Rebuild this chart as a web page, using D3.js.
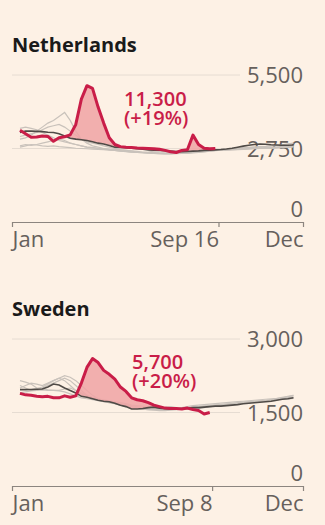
<!DOCTYPE html>
<html>
<head>
<meta charset="utf-8">
<script src="https://cdn.jsdelivr.net/npm/d3@7"></script>
<style>
  body { margin: 0; background: #fdf1e5; }
  svg { display: block; }
  text { font-family: "Open Sans", sans-serif; }
</style>
</head>
<body>
<div class="chart"></div>
<script>
// week numbers of the year (x categories)
var weeks = d3.range(1, 51);

// Netherlands, weekly deaths
var nlTitle = "Netherlands";
var nl2020 = [3430, 3300, 3170, 3180, 3220, 3200, 3020, 3150, 3190, 3260,
    3650, 4600, 5100, 5000, 4300, 3700, 3150, 2900, 2820, 2800,
    2790, 2770, 2760, 2750, 2740, 2720, 2680, 2630, 2600, 2680,
    2700, 3250, 2900, 2760, 2740, 2750];
var nlAverage = [3350, 3400, 3400, 3390, 3380, 3360, 3350, 3300, 3220, 3130,
    3100, 3080, 3050, 3000, 2950, 2920, 2860, 2800, 2790, 2780,
    2760, 2740, 2720, 2700, 2690, 2680, 2670, 2650, 2640, 2630,
    2640, 2650, 2660, 2680, 2690, 2700, 2710, 2730, 2760, 2800,
    2840, 2870, 2900, 2920, 2910, 2890, 2880, 2870, 2870, 2880];
var nlPast = [
    [3200, 3250, 3300, 3350, 3450, 3550, 3600, 3650, 3550, 3400, 3250, 3100, 3000, 2950, 2900, 2850, 2800, 2750, 2700, 2680, 2650, 2620, 2600, 2580, 2570, 2560, 2560, 2550, 2560, 2570, 2580, 2590, 2600, 2620, 2650, 2680, 2700, 2720, 2740, 2760, 2780, 2790, 2800, 2810, 2800, 2790, 2800, 2820, 2830, 2850],
    [2850, 2900, 2870, 2900, 2950, 3000, 3050, 3100, 3050, 2950, 2900, 2850, 2800, 2780, 2760, 2750, 2730, 2720, 2700, 2680, 2660, 2640, 2620, 2600, 2600, 2590, 2590, 2600, 2610, 2620, 2630, 2650, 2660, 2670, 2680, 2690, 2700, 2710, 2720, 2730, 2740, 2750, 2760, 2770, 2760, 2750, 2760, 2780, 2800, 2820],
    [3500, 3550, 3500, 3450, 3350, 3250, 3150, 3050, 3000, 2950, 2900, 2850, 2800, 2780, 2750, 2720, 2700, 2680, 2660, 2640, 2620, 2600, 2600, 2590, 2580, 2570, 2560, 2560, 2570, 2580, 2590, 2600, 2610, 2630, 2650, 2670, 2690, 2700, 2720, 2740, 2760, 2780, 2800, 2820, 2830, 2850, 2870, 2890, 2920, 2950],
    [3100, 3150, 3250, 3400, 3550, 3700, 3800, 3950, 4100, 3800, 3400, 3100, 2950, 2850, 2800, 2750, 2700, 2680, 2650, 2630, 2610, 2600, 2600, 2620, 2650, 2680, 2700, 2650, 2600, 2580, 2570, 2600, 2620, 2650, 2660, 2680, 2690, 2700, 2710, 2720, 2730, 2740, 2750, 2760, 2780, 2790, 2800, 2810, 2830, 2860],
    [2800, 2850, 2900, 2880, 2850, 2830, 2850, 2820, 2800, 2780, 2760, 2750, 2740, 2730, 2720, 2710, 2700, 2680, 2660, 2640, 2620, 2600, 2590, 2580, 2570, 2560, 2550, 2560, 2580, 2600, 2620, 2640, 2650, 2660, 2670, 2680, 2690, 2700, 2700, 2710, 2720, 2730, 2740, 2750, 2760, 2770, 2780, 2790, 2800, 2810]
];
var nlYTicks = [0, 2750, 5500];
var nlXTicks = ["Jan", "Sep 16", "Dec"];
var nlXTickDates = [new Date(2020, 0, 1), new Date(2020, 8, 16), new Date(2020, 11, 31)];
var nlNote = ["11,300", "(+19%)"];

// Sweden, weekly deaths
var seTitle = "Sweden";
var se2020 = [1890, 1860, 1850, 1830, 1820, 1830, 1800, 1800, 1840, 1810,
    1840, 2100, 2420, 2600, 2520, 2360, 2280, 2180, 2020, 1930,
    1800, 1760, 1740, 1700, 1650, 1620, 1590, 1580, 1580, 1570,
    1590, 1560, 1540, 1470, 1500];
var seAverage = [1970, 1970, 1970, 1975, 1980, 2020, 2080, 2060, 2000, 1950,
    1900, 1830, 1810, 1780, 1750, 1730, 1720, 1690, 1650, 1620,
    1570, 1570, 1580, 1600, 1610, 1590, 1580, 1570, 1570, 1580,
    1590, 1600, 1600, 1610, 1620, 1630, 1630, 1640, 1650, 1660,
    1680, 1690, 1700, 1710, 1720, 1730, 1750, 1770, 1780, 1800];
var sePast = [
    [2000, 2050, 2100, 2080, 2050, 2100, 2150, 2200, 2150, 2050, 1950, 1900, 1850, 1800, 1780, 1760, 1740, 1720, 1700, 1680, 1650, 1640, 1630, 1620, 1610, 1600, 1590, 1580, 1580, 1590, 1600, 1610, 1620, 1630, 1640, 1650, 1660, 1670, 1680, 1690, 1700, 1710, 1720, 1730, 1740, 1760, 1780, 1800, 1820, 1850],
    [2150, 2120, 2080, 2000, 1980, 1960, 1950, 1950, 1980, 2000, 1950, 1880, 1820, 1780, 1760, 1740, 1720, 1700, 1680, 1660, 1640, 1620, 1600, 1600, 1590, 1580, 1570, 1570, 1580, 1590, 1600, 1610, 1620, 1630, 1640, 1650, 1660, 1670, 1680, 1700, 1710, 1720, 1730, 1740, 1750, 1760, 1770, 1780, 1800, 1820],
    [2050, 2000, 1950, 1950, 2000, 2050, 2100, 2150, 2200, 2150, 2050, 1950, 1850, 1800, 1770, 1740, 1720, 1690, 1670, 1650, 1620, 1600, 1590, 1580, 1570, 1560, 1560, 1570, 1580, 1600, 1620, 1640, 1650, 1660, 1670, 1680, 1690, 1700, 1710, 1720, 1730, 1740, 1750, 1760, 1770, 1780, 1790, 1810, 1830, 1850],
    [1950, 1950, 1970, 1990, 2020, 2080, 2150, 2200, 2250, 2220, 2150, 2050, 1950, 1850, 1780, 1720, 1700, 1680, 1650, 1620, 1600, 1580, 1570, 1560, 1560, 1570, 1600, 1620, 1600, 1580, 1570, 1570, 1580, 1600, 1620, 1630, 1640, 1650, 1670, 1680, 1690, 1700, 1710, 1720, 1740, 1750, 1760, 1780, 1800, 1810],
    [1900, 1920, 1940, 1950, 1960, 1950, 1950, 1940, 1920, 1880, 1840, 1800, 1780, 1760, 1740, 1720, 1700, 1680, 1650, 1630, 1610, 1590, 1570, 1560, 1550, 1540, 1540, 1550, 1560, 1570, 1580, 1600, 1610, 1620, 1630, 1640, 1650, 1660, 1670, 1680, 1690, 1700, 1720, 1730, 1740, 1750, 1760, 1770, 1780, 1790]
];
var seYTicks = [0, 1500, 3000];
var seXTicks = ["Jan", "Sep 8", "Dec"];
var seXTickDates = [new Date(2020, 0, 1), new Date(2020, 8, 8), new Date(2020, 11, 31)];
var seNote = ["5,700", "(+20%)"];

// ==================================

var RED = "#c91d48";
var weekDate = function(w) {
    return new Date(2020, 0, 1 + 7 * w + 3);
};

var svg = d3.select(".chart")
            .append("svg")
            .attr("width", 325)
            .attr("height", 525);

var drawPanel = function(p) {
    var g = svg.append("g").attr("transform", "translate(0," + p.top + ")");

    var x = d3.scaleTime()
              .domain([new Date(2020, 0, 1), new Date(2020, 11, 31)])
              .range([12, 303]);
    var y = d3.scaleLinear()
              .domain([0, p.yTicks[p.yTicks.length - 1]])
              .range([147, 0]);

    g.append("text")
        .attr("x", 12)
        .attr("y", -23)
        .attr("font-size", 20)
        .attr("font-weight", 700)
        .attr("fill", "#1a1a1a")
        .text(p.title);

    // gridlines, the zero line is the axis
    g.selectAll(".grid")
        .data(p.yTicks.slice(1))
        .enter().append("line")
        .attr("x1", 12)
        .attr("x2", 240)
        .attr("y1", function(d) { return y(d); })
        .attr("y2", function(d) { return y(d); })
        .attr("stroke", "#e6dcd2")
        .attr("stroke-width", 1);

    g.selectAll(".ylab")
        .data(p.yTicks)
        .enter().append("text")
        .attr("x", 303)
        .attr("y", function(d) {
            return d === 0 ? y(d) - 5 : y(d) + 8; // zero label sits above the axis
        })
        .attr("text-anchor", "end")
        .attr("font-size", 22)
        .attr("fill", "#66605c")
        .text(d3.format(","));

    var xAxis = d3.axisBottom(x)
                  .tickValues(p.xTickDates)
                  .tickSize(5)
                  .tickSizeOuter(0)
                  .tickPadding(4)
                  .tickFormat(function(d, i) { return p.xTicks[i]; });

    var ax = g.append("g")
              .attr("transform", "translate(0," + y(0) + ")")
              .call(xAxis);
    ax.select(".domain").attr("stroke", "#8c857f").attr("stroke-width", 1.2);
    ax.selectAll(".tick line").attr("stroke", "#8c857f").attr("stroke-width", 1.2);
    ax.selectAll(".tick text")
        .attr("font-family", "Open Sans, sans-serif")
        .attr("font-size", 22)
        .attr("fill", "#66605c")
        .attr("text-anchor", function(d, i) { return i === 0 ? "start" : "end"; });

    var line = d3.line()
                 .x(function(d, i) { return x(weekDate(weeks[i])); })
                 .y(function(d) { return y(d); });

    g.selectAll(".past")
        .data(p.past)
        .enter().append("path")
        .attr("d", line)
        .attr("fill", "none")
        .attr("stroke", "#c9c2bb")
        .attr("stroke-width", 1.2);

    // excess area between this year and the average
    var area = d3.area()
                 .x(function(d, i) { return x(weekDate(weeks[i])); })
                 .y0(function(d, i) { return y(p.average[i]); })
                 .y1(function(d, i) { return y(Math.max(d, p.average[i])); });

    g.append("path")
        .attr("d", area(p.current))
        .attr("fill", "#f0a3a4")
        .attr("opacity", 0.85);

    g.append("path")
        .attr("d", line(p.average))
        .attr("fill", "none")
        .attr("stroke", "#4f4a46")
        .attr("stroke-width", 1.6);

    g.append("path")
        .attr("d", line(p.current))
        .attr("fill", "none")
        .attr("stroke", RED)
        .attr("stroke-width", 3)
        .attr("stroke-linejoin", "round");

    var note = g.append("text")
                .attr("font-size", 20)
                .attr("font-weight", 600)
                .attr("fill", RED);
    note.selectAll("tspan")
        .data(p.note)
        .enter().append("tspan")
        .attr("x", p.noteX)
        .attr("y", function(d, i) { return p.noteY + i * 19; })
        .text(function(d) { return d; });
};

drawPanel({
    top: 75, title: nlTitle, current: nl2020, average: nlAverage, past: nlPast,
    yTicks: nlYTicks, xTicks: nlXTicks, xTickDates: nlXTickDates,
    note: nlNote, noteX: 124, noteY: 31
});

drawPanel({
    top: 339, title: seTitle, current: se2020, average: seAverage, past: sePast,
    yTicks: seYTicks, xTicks: seXTicks, xTickDates: seXTickDates,
    note: seNote, noteX: 132, noteY: 30
});
</script>
</body>
</html>
